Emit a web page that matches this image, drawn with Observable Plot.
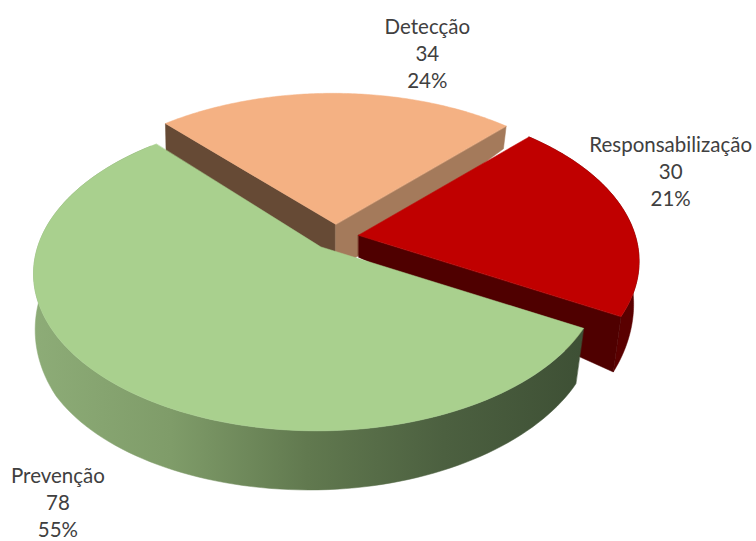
<!DOCTYPE html>
<html>
<head>
<meta charset="utf-8">
<script src="https://cdn.jsdelivr.net/npm/d3@7"></script>
<script src="https://cdn.jsdelivr.net/npm/@observablehq/plot@0.6"></script>
<style>html,body{margin:0;padding:0;background:#fff}svg{display:block}</style>
</head>
<body>
<script>
// Chart values (drawing order: clockwise from the back-left corner)
const categories = ["Detecção", "Responsabilização", "Prevenção"];
const values = [34, 30, 78];
const topColors = ["#F4B183", "#C00000", "#A9D08E"];

const W = 756, H = 541;
const total = d3.sum(values);
const rad = (d) => (d * Math.PI) / 180;

// 3D view of the pie: a disc seen in perspective
const view = {cx: 335, cy: 236.5, rx: 280, ry: 153, k: 0.168, m: 0.012, explode: 0.083, start: -42.7};
const depth = d3.scaleLinear().domain([-0.73, 0, 0.5, 1]).range([26, 50, 60, 59]);

let acc = view.start;
const slices = categories.map((name, i) => {
  const a0 = acc;
  const a1 = acc + (values[i] / total) * 360;
  acc = a1;
  const mid = rad((a0 + a1) / 2);
  const ax = view.cx + view.explode * view.rx * Math.sin(mid);
  const ay = view.cy - view.explode * view.ry * Math.cos(mid);
  return {name, value: values[i], a0, a1, mid, ax, ay, color: topColors[i],
    label: `${name}\n${values[i]}\n${d3.format(".0%")(values[i] / total)}`};
});

function rim(s, deg) {
  const u = Math.sin(rad(deg)), v = -Math.cos(rad(deg)), w = 1 - view.k * v + view.m * u;
  return {x: s.ax + (view.rx * u) / w, y: s.ay + (view.ry * v) / w, u, v};
}
const inset = (p) => (p.u < 0 ? 1 + 4 * Math.max(p.v, 0) : 4 + 10 * Math.max(p.v, 0));
const drop = (p) => ({x: p.x - p.u * inset(p), y: p.y + depth(p.v) - 5 * p.u});
const arc = (s, a0, a1) => d3.range(0, 121).map((i) => rim(s, a0 + ((a1 - a0) * i) / 120));

const topFace = (s, extra = 0) => [{x: s.ax, y: s.ay}, ...arc(s, s.a0, s.a1 + extra)];
function sideWall(s, deg, apexDrop) {
  const p = rim(s, deg);
  const q = drop(p);
  return [{x: s.ax, y: s.ay}, p, q, {x: s.ax, y: s.ay + apexDrop}];
}
function rimWall(s, a0, a1) {
  const t = arc(s, a0, a1);
  return [...t, ...t.map(drop).reverse()];
}

const face = (pts, fill) =>
  Plot.line(pts, {x: "x", y: "y", fill, stroke: fill, strokeWidth: 0.5, curve: "linear-closed"});

const [det, res, pre] = slices;

const defs = () => {
  const d = d3.create("svg:defs");
  const g = d.append("linearGradient").attr("id", "greenWall")
    .attr("gradientUnits", "userSpaceOnUse")
    .attr("x1", 34).attr("x2", 580).attr("y1", 0).attr("y2", 0);
  [[0, "#8DAC77"], [0.25, "#7F9C69"], [0.5, "#61794F"], [0.75, "#4C6040"], [1, "#3E5035"]].forEach(([o, c]) =>
    g.append("stop").attr("offset", o).attr("stop-color", c));
  return d.node();
};

const textStyle = {fontFamily: "Lato, sans-serif", fontSize: 20.5, fill: "#404040", lineHeight: 1.33, lineAnchor: "middle", text: "label", x: "x", y: "y"};
const labelMark = (s, dx, dy) => {
  const p = rim(s, (s.a0 + s.a1) / 2);
  return Plot.text([{x: p.x, y: p.y, label: s.label}], {...textStyle, dx, dy});
};

const chart = Plot.plot({
  width: W,
  height: H,
  margin: 0,
  x: {domain: [0, W], range: [0, W], axis: null},
  y: {domain: [0, H], range: [0, H], axis: null},
  style: {background: "#fff"},
  marks: [
    defs,
    face(sideWall(det, det.a0, 34), "#664A35"),
    face(sideWall(det, det.a1, 48), "#A47A5B"),
    face(topFace(det), det.color),
    face(rimWall(res, res.a0, res.a1), "#5A0000"),
    face(sideWall(res, res.a1, 22), "#4F0000"),
    face(topFace(res), res.color),
    face(rimWall(pre, pre.a0, pre.a1), "url(#greenWall)"),
    face(topFace(pre, 1.5), pre.color),
    labelMark(det, 90, -41),
    labelMark(res, 45, -43),
    labelMark(pre, -61, 115)
  ]
});
document.body.append(chart);
</script>
</body>
</html>
